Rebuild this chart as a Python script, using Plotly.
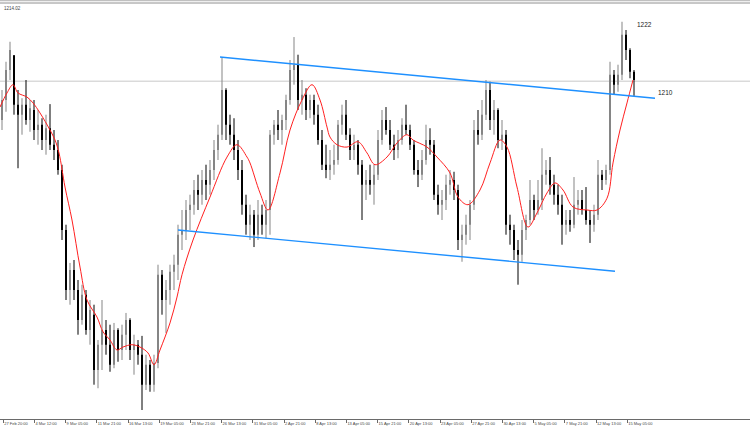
import plotly.graph_objects as go

# ---------------- data ----------------
opens = [1205.6,1209.0,1214.1,1216.6,1208.2,1206.5,1208.2,1205.6,1207.3,1203.9,
         1204.8,1202.2,1204.2,1201.4,1200.5,1197.1,1186.9,1176.7,1180.1,1176.7,
         1171.6,1175.9,1169.9,1172.5,1163.1,1167.4,1169.9,1167.4,1164.0,1169.9,
         1166.5,1169.1,1171.6,1166.5,1167.4,1165.7,1160.6,1164.0,1160.6,1164.3,
         1179.3,1175.0,1176.7,1179.8,1181.0,1186.1,1186.9,1190.3,1191.2,1193.7,
         1192.9,1195.4,1194.6,1197.1,1200.5,1203.1,1210.7,1204.8,1203.1,1200.5,
         1197.1,1191.2,1187.8,1189.5,1186.1,1189.5,1187.8,1190.3,1203.1,1204.8,
         1203.9,1205.6,1209.0,1214.1,1215.0,1209.0,1209.9,1207.3,1209.0,1206.5,
         1202.2,1198.0,1197.1,1198.0,1198.8,1204.8,1206.5,1203.1,1200.5,1201.4,
         1198.0,1194.6,1195.4,1194.6,1196.3,1202.2,1205.6,1203.9,1201.4,1200.5,
         1202.2,1204.8,1203.9,1201.4,1197.1,1196.3,1198.8,1202.2,1201.4,1192.9,
         1191.2,1192.0,1194.6,1195.4,1193.7,1185.2,1186.1,1187.8,1191.2,1203.9,
         1203.1,1206.5,1210.7,1205.6,1207.3,1202.2,1203.1,1187.8,1186.9,1183.5,
         1182.7,1186.9,1188.6,1192.0,1190.3,1192.0,1196.3,1197.1,1194.6,1192.9,
         1191.2,1187.8,1188.6,1187.8,1191.2,1192.0,1190.3,1188.6,1187.8,1189.5,
         1196.3,1195.4,1197.1,1213.3,1211.6,1213.3,1220.1,1217.5,1213.8]
highs = [1210.7,1215.5,1218.9,1216.6,1210.7,1209.3,1212.4,1209.0,1209.0,1207.3,
         1205.9,1206.5,1208.3,1203.9,1202.2,1198.0,1187.8,1181.3,1181.8,1178.4,
         1177.6,1176.7,1175.0,1174.2,1168.2,1175.0,1171.6,1170.8,1171.1,1170.2,
         1170.8,1172.8,1171.9,1169.1,1168.2,1168.9,1165.7,1164.8,1165.7,1181.0,
         1180.1,1178.4,1181.0,1182.7,1187.8,1190.3,1192.0,1192.9,1195.4,1196.3,
         1197.1,1198.0,1198.8,1202.2,1204.8,1216.3,1211.0,1206.5,1205.9,1202.2,
         1198.8,1192.9,1191.2,1190.3,1192.0,1191.2,1192.0,1203.9,1205.6,1207.3,
         1206.5,1209.9,1215.8,1219.7,1216.7,1212.4,1211.0,1209.9,1209.9,1208.2,
         1203.9,1201.4,1200.5,1201.4,1205.6,1208.2,1209.0,1204.2,1203.1,1202.2,
         1198.8,1197.1,1198.0,1198.0,1203.9,1207.3,1207.8,1205.6,1203.1,1203.9,
         1205.9,1208.2,1204.8,1202.2,1198.8,1200.5,1204.8,1204.2,1202.2,1194.6,
         1193.7,1196.3,1197.1,1196.8,1194.6,1187.8,1189.5,1192.0,1205.6,1207.3,
         1209.0,1212.4,1212.1,1209.0,1207.6,1205.6,1203.9,1189.5,1187.8,1185.2,
         1188.6,1189.5,1195.4,1192.9,1195.4,1200.8,1198.8,1199.3,1196.3,1194.6,
         1192.9,1190.3,1190.3,1195.9,1193.7,1193.7,1194.2,1190.3,1191.2,1198.8,
         1197.1,1198.0,1215.5,1214.1,1215.0,1222.3,1220.9,1217.8,1214.1]
lows = [1203.9,1207.0,1212.4,1206.5,1197.4,1203.1,1204.8,1203.6,1202.2,1201.4,
        1200.5,1199.7,1200.5,1198.8,1196.3,1185.2,1175.0,1174.2,1175.0,1169.1,
        1170.8,1169.1,1167.4,1160.6,1160.0,1163.1,1165.7,1162.8,1163.4,1164.5,
        1164.8,1166.5,1164.8,1162.3,1164.0,1156.3,1159.7,1159.4,1159.4,1163.4,
        1172.5,1169.4,1174.2,1176.7,1178.4,1183.5,1185.2,1186.9,1189.5,1190.3,
        1191.2,1192.0,1192.9,1195.4,1198.8,1202.2,1202.2,1201.4,1198.8,1195.4,
        1189.5,1186.1,1185.2,1184.0,1185.2,1186.1,1185.5,1186.1,1201.4,1202.2,
        1201.4,1203.9,1208.2,1211.6,1207.3,1206.5,1205.6,1205.9,1204.8,1201.4,
        1197.1,1195.7,1195.4,1196.3,1198.0,1203.1,1202.2,1198.8,1198.8,1196.3,
        1188.6,1192.0,1192.9,1191.2,1195.4,1201.4,1203.1,1200.5,1198.8,1199.1,
        1201.4,1203.1,1200.5,1196.3,1194.2,1195.4,1198.0,1199.7,1192.0,1189.5,
        1188.6,1190.3,1192.9,1192.0,1183.5,1181.5,1184.4,1185.2,1190.3,1201.4,
        1202.2,1205.6,1203.9,1203.1,1200.8,1200.5,1186.1,1184.4,1181.8,1177.6,
        1181.5,1185.2,1187.8,1188.6,1189.5,1190.3,1194.6,1192.9,1191.2,1189.5,
        1184.4,1186.1,1186.6,1187.2,1189.5,1189.5,1187.8,1184.7,1186.6,1188.6,
        1193.7,1194.6,1196.3,1209.9,1210.4,1212.4,1215.8,1212.7,1209.7]
closes = [1209.0,1214.1,1217.5,1208.2,1206.5,1208.2,1205.6,1207.6,1203.9,1204.8,
          1202.2,1204.2,1201.4,1200.5,1197.1,1186.9,1176.7,1180.1,1176.7,1171.6,
          1175.9,1169.9,1173.3,1163.1,1167.4,1169.9,1167.4,1164.0,1169.9,1166.5,
          1169.1,1171.6,1166.5,1167.4,1165.7,1160.6,1164.0,1160.6,1164.3,1179.3,
          1175.0,1176.7,1179.8,1181.0,1186.1,1186.9,1190.3,1191.2,1193.7,1192.9,
          1195.4,1194.6,1197.1,1200.5,1203.1,1210.7,1204.8,1203.1,1200.5,1197.1,
          1191.2,1187.8,1189.5,1186.1,1189.5,1187.8,1190.3,1203.1,1204.8,1203.9,
          1205.6,1209.0,1214.1,1215.0,1209.0,1209.9,1207.3,1209.0,1206.5,1202.2,
          1198.0,1197.1,1198.0,1198.8,1204.8,1206.5,1203.1,1200.5,1201.4,1198.0,
          1194.6,1195.4,1194.6,1196.3,1202.2,1205.6,1203.9,1201.4,1200.5,1202.2,
          1204.8,1203.9,1201.4,1197.1,1196.3,1198.8,1202.2,1201.4,1192.9,1191.2,
          1192.0,1194.6,1195.4,1193.7,1185.2,1186.1,1187.8,1191.2,1203.9,1203.1,
          1206.5,1210.7,1205.6,1207.3,1202.2,1203.1,1187.8,1186.9,1183.5,1182.7,
          1186.9,1188.6,1192.0,1190.3,1192.0,1196.3,1197.1,1194.6,1192.9,1191.2,
          1187.8,1188.6,1187.8,1191.2,1192.0,1190.3,1188.6,1187.8,1189.5,1196.3,
          1195.4,1197.1,1213.3,1211.6,1213.3,1220.1,1217.5,1213.8,1212.4]

# moving average (red line), bar index / price
ma_x = [-0.5,1.25,2.75,4,6.25,7.75,9.5,12,13.25,14.25,15.75,17.5,19.5,21.25,23.75,
        25.25,27,28.75,30.25,32.5,34.5,36.5,38,39.5,42,43.75,45,47.75,52,56.25,
        58.75,61.25,62,64.5,66.5,69.5,72,75,77.5,79.5,81.25,82,83.75,86.25,89,
        91.25,93.25,96.25,98.75,101.25,102.75,106.25,108.75,112,114,116.5,119.5,
        122,124.5,126.25,128.75,131.5,133.75,136.25,138.25,140.25,142.75,146.25,
        148.75,151.25,152.75,154.5,156.25,157.75]
ma_y = [1207.8,1210.2,1211.6,1210.2,1209.5,1208.5,1206.8,1203.9,1202.2,1200.0,
        1194.2,1188.6,1180.6,1175.0,1172.1,1169.6,1168.2,1166.5,1167.0,1167.4,
        1167.0,1166.0,1164.0,1166.5,1171.1,1175.5,1179.3,1185.2,1192.5,1199.3,
        1201.4,1199.3,1198.3,1193.2,1190.3,1196.6,1203.9,1209.0,1211.6,1209.0,
        1204.4,1202.7,1201.4,1201.0,1201.9,1200.0,1198.0,1199.3,1201.7,1203.1,
        1202.2,1201.0,1199.3,1196.6,1192.5,1191.2,1193.7,1198.3,1202.2,1201.0,
        1194.2,1187.4,1189.8,1193.2,1194.9,1193.7,1190.8,1190.3,1190.3,1192.3,
        1198.3,1203.9,1208.5,1212.4]

# channel trend lines (bar index, price)
upper_x = [54.5, 163.25]
upper_y = [1216.3, 1209.3]
lower_x = [44.0, 153.25]
lower_y = [1186.9, 1179.9]

current_price = 1212.2
header_text = "1214.02"
level_labels = ["1222", "1210"]
level_x = [158.25, 163.5]
level_y = [1221.9, 1210.2]

tick_pos = [0.3, 8.1, 15.9, 23.7, 31.5, 39.3, 47.1, 54.9, 62.7, 70.5, 78.3,
            86.1, 93.9, 101.7, 109.5, 117.3, 125.1, 132.9, 140.7, 148.5, 156.3]
tick_labels = ["27 Feb 20:00", "4 Mar 12:00", "9 Mar 05:00", "11 Mar 21:00",
               "16 Mar 13:00", "19 Mar 05:00", "23 Mar 21:00", "26 Mar 13:00",
               "31 Mar 05:00", "2 Apr 21:00", "8 Apr 13:00", "13 Apr 05:00",
               "15 Apr 21:00", "20 Apr 13:00", "23 Apr 05:00", "27 Apr 21:00",
               "30 Apr 13:00", "5 May 05:00", "7 May 21:00", "12 May 13:00",
               "15 May 05:00"]

# ---------------- build figure ----------------
fig = go.Figure()

def segs(idx_list, a, b):
    xs, ys = [], []
    for i in idx_list:
        xs += [i, i, None]
        ys += [a[i], b[i], None]
    return xs, ys

n = len(closes)
up = [i for i in range(n) if closes[i] >= opens[i]]
dn = [i for i in range(n) if closes[i] < opens[i]]

for ids, col in ((up, "#858585"), (dn, "#000000")):
    wx, wy = segs(ids, highs, lows)
    fig.add_trace(go.Scatter(x=wx, y=wy, mode="lines",
                             line=dict(color=col, width=1), hoverinfo="skip"))
    bx, by = segs(ids, opens, closes)
    fig.add_trace(go.Scatter(x=bx, y=by, mode="lines",
                             line=dict(color=col, width=2), hoverinfo="skip"))

fig.add_trace(go.Scatter(x=ma_x, y=ma_y, mode="lines",
                         line=dict(color="#ff2020", width=1, shape="spline"),
                         hoverinfo="skip"))
fig.add_trace(go.Scatter(x=upper_x, y=upper_y, mode="lines",
                         line=dict(color="#1e90ff", width=1.4), hoverinfo="skip"))
fig.add_trace(go.Scatter(x=lower_x, y=lower_y, mode="lines",
                         line=dict(color="#1e90ff", width=1.4), hoverinfo="skip"))

fig.add_hline(y=current_price, line=dict(color="#c8c8c8", width=1), layer="below")

for t, x, y in zip(level_labels, level_x, level_y):
    fig.add_annotation(x=x, y=y, text=t, showarrow=False, xanchor="left",
                       yanchor="middle", font=dict(size=6.5, color="#222222",
                                                   family="Liberation Sans"))
fig.add_annotation(xref="paper", yref="paper", x=0.002, y=1, yshift=-1,
                   text=header_text, showarrow=False, xanchor="left",
                   yanchor="top", font=dict(size=4.5, color="#444444",
                                            family="Liberation Sans"))

fig.add_shape(type="line", xref="paper", yref="paper", x0=0, x1=1, y0=1, y1=1,
              line=dict(color="#909090", width=1))
fig.add_shape(type="line", xref="paper", yref="paper", x0=0, x1=1,
              y0=1.0055, y1=1.0055, line=dict(color="#b0b0b0", width=1))

fig.update_layout(
    width=750, height=430,
    margin=dict(l=0, r=0, t=3, b=11, pad=0, autoexpand=False),
    paper_bgcolor="white", plot_bgcolor="white",
    showlegend=False,
    xaxis=dict(range=[-0.5, 187], showgrid=False, zeroline=False, automargin=False,
               showline=True, linecolor="#6a6a6a", linewidth=1,
               ticks="outside", ticklen=3, tickcolor="#6a6a6a", tickwidth=1,
               tickvals=tick_pos, ticktext=tick_labels, tickangle=0,
               ticklabelposition="outside right", ticklabelstandoff=0,
               tickfont=dict(size=4, color="#444444", family="Liberation Sans")),
    yaxis=dict(range=[1154.77, 1225.49], showgrid=False, zeroline=False,
               automargin=False, showticklabels=False, showline=False),
)

fig.write_html("out.html", config={"displayModeBar": False},
               post_script="document.body.style.margin='0px';"
                           "document.body.style.overflow='hidden';")
